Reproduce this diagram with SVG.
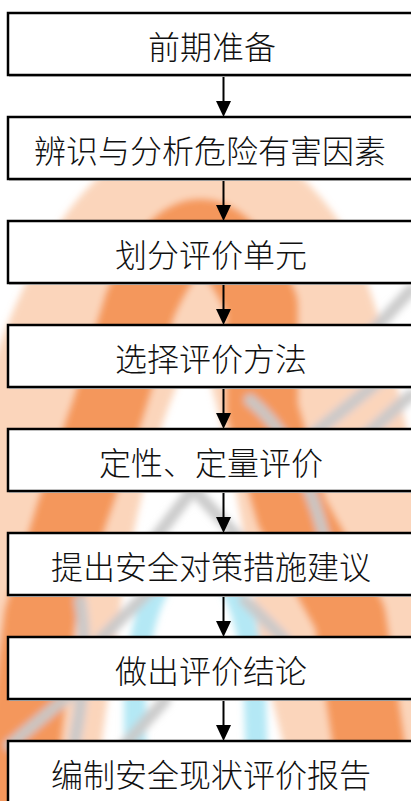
<svg xmlns="http://www.w3.org/2000/svg" width="411" height="801" viewBox="0 0 411 801">
<style>
.box{fill:#fff;stroke:#000;stroke-width:2.5}
.sh{stroke:#999;stroke-width:1}
.lbl{font-family:"Noto Sans CJK SC","Noto Sans",sans-serif;font-size:32px;font-weight:300;fill:#111;text-anchor:middle;dominant-baseline:central}
.conn line{stroke:#000;stroke-width:2}
.conn path{fill:#000}
.wm{fill:none;stroke-linecap:round;stroke-linejoin:round}
</style>
<defs>
<filter id="blur" x="-20%" y="-20%" width="140%" height="140%"><feGaussianBlur stdDeviation="3.5"/></filter>
</defs>
<rect width="411" height="801" fill="#fff"/>
<g id="watermark" filter="url(#blur)">
<path class="wm" d="M 0 820 L 25 640 Q 55 400 130 280 Q 200 170 270 280 Q 320 400 350 640 L 395 820" stroke="#f8b283" stroke-width="180" opacity="0.55"/>
<path class="wm" d="M 15 820 L 40 617 L 72 513 L 108 409 L 140 305 Q 200 165 262 305 L 262 409 L 292 513 L 350 617 L 380 820" stroke="#f38d4c" stroke-width="72" opacity="0.85"/>
<path class="wm" d="M 135 801 L 135 700 Q 140 570 195 560 Q 250 570 255 700 L 258 801" stroke="#9be0f1" stroke-width="22" opacity="0.75"/>
<g stroke="#c9c9c9" stroke-width="12" stroke-linecap="round" opacity="0.95">
<line x1="411" y1="290" x2="360" y2="345"/>
<line x1="300" y1="445" x2="411" y2="355"/>
<line x1="355" y1="445" x2="411" y2="395"/>
<line x1="150" y1="545" x2="200" y2="480"/>
<line x1="185" y1="480" x2="245" y2="545"/>
<line x1="100" y1="640" x2="160" y2="580"/>
<line x1="245" y1="600" x2="285" y2="640"/>
<line x1="10" y1="745" x2="75" y2="690"/>
<line x1="125" y1="745" x2="165" y2="700"/>
<path d="M 250 400 Q 300 440 325 540" fill="none"/>
<path d="M 80 600 Q 90 660 75 740" fill="none"/>
</g>
</g>
<g id="connectors" class="conn">
<line x1="223.5" y1="75" x2="223.5" y2="102"/><path d="M216 101 L231 101 L223.5 117 Z"/>
<line x1="223.5" y1="179" x2="223.5" y2="206"/><path d="M216 205 L231 205 L223.5 221 Z"/>
<line x1="223.5" y1="283" x2="223.5" y2="310"/><path d="M216 309 L231 309 L223.5 325 Z"/>
<line x1="223.5" y1="387" x2="223.5" y2="414"/><path d="M216 413 L231 413 L223.5 429 Z"/>
<line x1="223.5" y1="491" x2="223.5" y2="518"/><path d="M216 517 L231 517 L223.5 533 Z"/>
<line x1="223.5" y1="595" x2="223.5" y2="622"/><path d="M216 621 L231 621 L223.5 637 Z"/>
<line x1="223.5" y1="699" x2="223.5" y2="726"/><path d="M216 725 L231 725 L223.5 741 Z"/>
</g>
<g id="n1"><rect class="box" x="8" y="13" width="420" height="62"/><line class="sh" x1="9" y1="76.5" x2="411" y2="76.5"/><text class="lbl" x="212" y="45">前期准备</text></g>
<g id="n2"><rect class="box" x="8" y="117" width="420" height="62"/><line class="sh" x1="9" y1="180.5" x2="411" y2="180.5"/><text class="lbl" x="210" y="149">辨识与分析危险有害因素</text></g>
<g id="n3"><rect class="box" x="8" y="221" width="420" height="62"/><line class="sh" x1="9" y1="284.5" x2="411" y2="284.5"/><text class="lbl" x="211" y="253">划分评价单元</text></g>
<g id="n4"><rect class="box" x="8" y="325" width="420" height="62"/><line class="sh" x1="9" y1="388.5" x2="411" y2="388.5"/><text class="lbl" x="211" y="357">选择评价方法</text></g>
<g id="n5"><rect class="box" x="8" y="429" width="420" height="62"/><line class="sh" x1="9" y1="492.5" x2="411" y2="492.5"/><text class="lbl" x="211" y="461">定性、定量评价</text></g>
<g id="n6"><rect class="box" x="8" y="533" width="420" height="62"/><line class="sh" x1="9" y1="596.5" x2="411" y2="596.5"/><text class="lbl" x="211" y="565">提出安全对策措施建议</text></g>
<g id="n7"><rect class="box" x="8" y="637" width="420" height="62"/><line class="sh" x1="9" y1="700.5" x2="411" y2="700.5"/><text class="lbl" x="211" y="669">做出评价结论</text></g>
<g id="n8"><rect class="box" x="8" y="741" width="420" height="80"/><text class="lbl" x="211" y="773">编制安全现状评价报告</text></g>
</svg>
